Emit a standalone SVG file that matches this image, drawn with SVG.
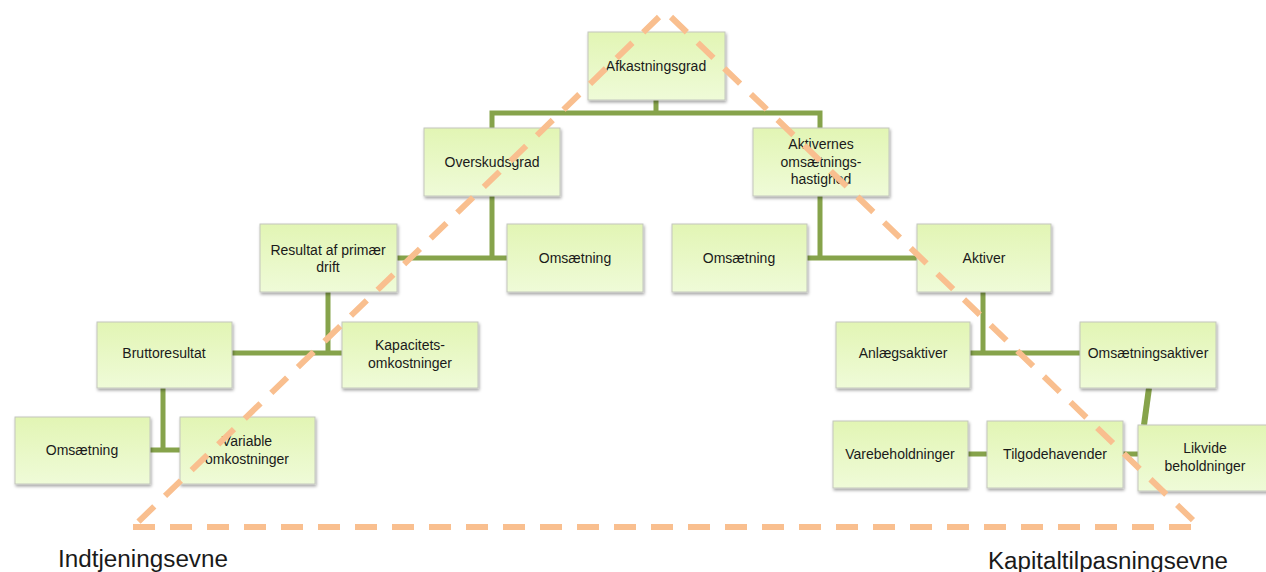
<svg xmlns="http://www.w3.org/2000/svg" width="1266" height="572" viewBox="0 0 1266 572">
<style>
.box{fill:url(#g);stroke:#C3C6BE;stroke-width:1;filter:url(#sh)}
.t{font-family:"Liberation Sans",Arial,sans-serif;font-size:14px;fill:#1a1a1a;text-anchor:middle}
.c{stroke:#86A34B;stroke-width:5;fill:none}
.tri{stroke:#F9BF8F;stroke-width:6;fill:none;stroke-dasharray:22 15}
.lbl{font-family:"Liberation Sans",Arial,sans-serif;font-size:23px;fill:#1a1a1a}
</style>
<defs>
<linearGradient id="g" x1="0" y1="0" x2="0" y2="1">
<stop offset="0" stop-color="#E2F5B4"/>
<stop offset="1" stop-color="#EFFBD8"/>
</linearGradient>
<filter id="sh" x="-10%" y="-10%" width="125%" height="130%">
<feDropShadow dx="1" dy="2" stdDeviation="1.5" flood-color="#000" flood-opacity="0.35"/>
</filter>
</defs>
<rect width="1266" height="572" fill="#fff"/>
<g id="connectors">
<path class="c" d="M656,100 V113 M492,130 V113 H820 V130"/>
<path class="c" d="M492,196 V258 M397,258 H507"/>
<path class="c" d="M820,196 V258 M807,258 H917"/>
<path class="c" d="M328,292 V353 M232,353 H342"/>
<path class="c" d="M163,388 V450 M150,450 H180"/>
<path class="c" d="M983,292 V353 M970,353 H1080"/>
<path class="c" d="M1149,388 L1144,425" style="stroke-width:6"/>
<path class="c" d="M968,454 H987 M1123,454 H1138"/>
</g>
<g id="n1"><rect class="box" x="588" y="32" width="137" height="68"/><text class="t" x="656" y="71">Afkastningsgrad</text></g>
<g id="n2"><rect class="box" x="424" y="128" width="136" height="68"/><text class="t" x="492" y="167">Overskudsgrad</text></g>
<g id="n3"><rect class="box" x="753" y="128" width="136" height="68"/><text class="t" x="821" y="149">Aktivernes</text><text class="t" x="821" y="167">omsætnings-</text><text class="t" x="821" y="184">hastighed</text></g>
<g id="n4"><rect class="box" x="260" y="224" width="137" height="68"/><text class="t" x="328" y="255">Resultat af primær</text><text class="t" x="328" y="272">drift</text></g>
<g id="n5"><rect class="box" x="507" y="224" width="136" height="68"/><text class="t" x="575" y="263">Omsætning</text></g>
<g id="n6"><rect class="box" x="672" y="224" width="135" height="68"/><text class="t" x="739" y="263">Omsætning</text></g>
<g id="n7"><rect class="box" x="917" y="224" width="134" height="68"/><text class="t" x="984" y="263">Aktiver</text></g>
<g id="n8"><rect class="box" x="97" y="322" width="135" height="66"/><text class="t" x="164" y="358">Bruttoresultat</text></g>
<g id="n9"><rect class="box" x="342" y="322" width="136" height="66"/><text class="t" x="410" y="350">Kapacitets-</text><text class="t" x="410" y="368">omkostninger</text></g>
<g id="n10"><rect class="box" x="15" y="417" width="135" height="67"/><text class="t" x="82" y="455">Omsætning</text></g>
<g id="n11"><rect class="box" x="180" y="417" width="135" height="67"/><text class="t" x="247" y="446">Variable</text><text class="t" x="247" y="464">omkostninger</text></g>
<g id="n12"><rect class="box" x="836" y="322" width="134" height="66"/><text class="t" x="903" y="358">Anlægsaktiver</text></g>
<g id="n13"><rect class="box" x="1080" y="322" width="136" height="66"/><text class="t" x="1148" y="358">Omsætningsaktiver</text></g>
<g id="n14"><rect class="box" x="833" y="421" width="135" height="67"/><text class="t" x="900" y="459">Varebeholdninger</text></g>
<g id="n15"><rect class="box" x="987" y="421" width="136" height="67"/><text class="t" x="1055" y="459">Tilgodehavender</text></g>
<g id="n16"><rect class="box" x="1138" y="425" width="136" height="66"/><text class="t" x="1205" y="453">Likvide</text><text class="t" x="1205" y="471">beholdninger</text></g>
<g id="triangle">
<path class="tri" d="M659,17 L133,527"/>
<path class="tri" d="M671,17 L1200,527"/>
<path class="tri" d="M133,527 H1200"/>
</g>
<g id="labels">
<text class="lbl" x="58" y="567" textLength="170" lengthAdjust="spacingAndGlyphs">Indtjeningsevne</text>
<text class="lbl" x="988" y="569" textLength="240" lengthAdjust="spacingAndGlyphs">Kapitaltilpasningsevne</text>
</g>
</svg>
